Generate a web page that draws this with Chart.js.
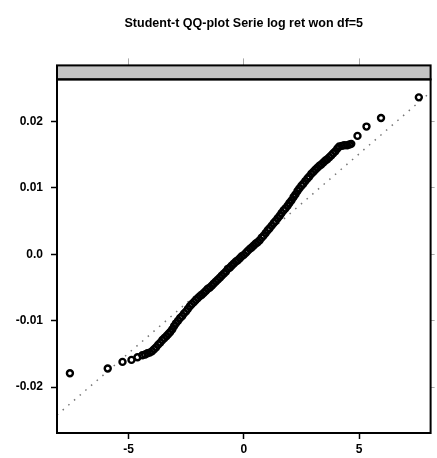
<!DOCTYPE html>
<html>
<head>
<meta charset="utf-8">
<script src="https://cdn.jsdelivr.net/npm/chart.js@4/dist/chart.umd.min.js"></script>
<style>
  body { margin: 0; background: #fff; }
  canvas { display: block; }
</style>
</head>
<body>
<canvas id="myChart" width="437" height="458"></canvas>
<script>
const ctx = document.getElementById('myChart');

const TITLE = 'Student-t QQ-plot Serie log ret won df=5';

// theoretical t(5) quantiles (x) against sorted log returns (y)
const Q_THEO = [
  -7.54, -5.90, -5.26, -4.87, -4.61, -4.40, -4.28, -4.18, -4.08, -3.98,
  -3.89, -3.80, -3.71, -3.62, -3.53, -3.44, -3.35, -3.27, -3.19, -3.10,
  -3.02, -2.94, -2.85, -2.76, -2.67, -2.59, -2.50, -2.42, -2.33, -2.25,
  -2.16, -2.08, -1.99, -1.90, -1.82, -1.73, -1.64, -1.56, -1.47, -1.38,
  -1.30, -1.21, -1.12, -1.03, -0.95, -0.86, -0.77, -0.69, -0.60, -0.52,
  -0.43, -0.34, -0.26, -0.17, -0.09, 0.00, 0.09, 0.17, 0.26, 0.34,
  0.43, 0.52, 0.60, 0.69, 0.78, 0.86, 0.95, 1.04, 1.12, 1.21,
  1.30, 1.38, 1.47, 1.56, 1.64, 1.73, 1.81, 1.90, 1.98, 2.07,
  2.16, 2.24, 2.33, 2.41, 2.50, 2.58, 2.67, 2.76, 2.84, 2.93,
  3.02, 3.10, 3.19, 3.28, 3.36, 3.45, 3.54, 3.62, 3.71, 3.80,
  3.88, 3.97, 4.06, 4.14, 4.25, 4.35, 4.48, 4.58, 4.66, 4.93,
  5.32, 5.95, 7.59
];
const Q_SAMPLE = [
  -0.0179, -0.0172, -0.0162, -0.0159, -0.0155, -0.0152, -0.0151, -0.0149, -0.0148, -0.0146,
  -0.0143, -0.0140, -0.0136, -0.0133, -0.0129, -0.0126, -0.0123, -0.0120, -0.0117, -0.0113,
  -0.0108, -0.0104, -0.0100, -0.0096, -0.0093, -0.0089, -0.0086, -0.0082, -0.0078, -0.0075,
  -0.0072, -0.0069, -0.0066, -0.0063, -0.0061, -0.0058, -0.0055, -0.0052, -0.0050, -0.0047,
  -0.0044, -0.0041, -0.0038, -0.0035, -0.0032, -0.0029, -0.0026, -0.0022, -0.0020, -0.0017,
  -0.0014, -0.0011, -0.0009, -0.0006, -0.0003, -0.0001, 0.0002, 0.0005, 0.0008, 0.0010,
  0.0013, 0.0016, 0.0018, 0.0021, 0.0025, 0.0028, 0.0032, 0.0036, 0.0039, 0.0043,
  0.0047, 0.0050, 0.0054, 0.0058, 0.0062, 0.0066, 0.0069, 0.0073, 0.0077, 0.0081,
  0.0086, 0.0090, 0.0095, 0.0099, 0.0103, 0.0106, 0.0110, 0.0114, 0.0117, 0.0121,
  0.0124, 0.0127, 0.0130, 0.0133, 0.0135, 0.0138, 0.0141, 0.0143, 0.0146, 0.0149,
  0.0152, 0.0155, 0.0159, 0.0162, 0.0163, 0.0164, 0.0164, 0.0165, 0.0166, 0.0178,
  0.0192, 0.0205, 0.0236
];

// qq reference line end points
const LINE_X = [-8.1, 8.1];
const LINE_Y = [-0.0242, 0.0244];

const X_TICKS = [-5, 0, 5];
const X_TICK_LABELS = ['-5', '0', '5'];
const Y_TICKS = [-0.02, -0.01, 0, 0.01, 0.02];
const Y_TICK_LABELS = ['-0.02', '-0.01', '0.0', '0.01', '0.02'];

const X_MIN = -8.1, X_MAX = 8.1;
const Y_MIN = -0.0269, Y_MAX = 0.0263;

const FONT = 'Liberation Sans, Arial, sans-serif';

const points = Q_THEO.map((x, i) => ({ x: x, y: Q_SAMPLE[i] }));
const refLine = LINE_X.map((x, i) => ({ x: x, y: LINE_Y[i] }));

function setTicks(list) {
  return function (scale) {
    scale.ticks = list.map(v => ({ value: v }));
  };
}

// grey strip over the panel, like a lattice strip
const stripPlugin = {
  id: 'strip',
  afterDraw(chart) {
    const a = chart.chartArea;
    const c = chart.ctx;
    c.save();
    c.fillStyle = '#c4c4c4';
    c.fillRect(a.left, a.top - 14, a.right - a.left, 14);
    c.strokeStyle = '#000';
    c.lineWidth = 2;
    c.strokeRect(a.left, a.top - 14, a.right - a.left, 14);
    c.strokeRect(a.left, a.top, a.right - a.left, a.bottom - a.top);
    c.restore();
  }
};

window.myChart = new Chart(ctx, {
  type: 'scatter',
  data: {
    datasets: [{
      label: 'qq',
      data: points,
      pointStyle: 'circle',
      pointRadius: 3,
      borderWidth: 2.4,
      borderColor: '#000',
      backgroundColor: 'rgba(0,0,0,0)',
      order: 1
    }, {
      label: 'line',
      data: refLine,
      showLine: true,
      pointRadius: 0,
      borderColor: '#777',
      borderWidth: 1.5,
      borderDash: [1.5, 6],
      order: 2
    }]
  },
  options: {
    responsive: false,
    animation: false,
    layout: { padding: 0 },
    plugins: {
      legend: { display: false },
      tooltip: { enabled: false },
      title: {
        display: true,
        fullSize: false,
        text: TITLE,
        color: '#000',
        font: { family: FONT, size: 12.5, weight: 'bold' },
        padding: { top: 16, bottom: 0 }
      }
    },
    scales: {
      x: {
        type: 'linear',
        position: 'bottom',
        min: X_MIN, max: X_MAX,
        afterBuildTicks: setTicks(X_TICKS),
        afterFit(s) { s.height = 25; },
        border: { display: true, color: '#000', width: 2 },
        grid: { drawOnChartArea: false, tickLength: 6, color: '#000', tickWidth: 1.5 },
        ticks: {
          color: '#000', padding: 3, maxRotation: 0,
          font: { family: FONT, size: 12, weight: 'bold' },
          callback: (v, i) => X_TICK_LABELS[i]
        }
      },
      x2: {
        type: 'linear',
        position: 'top',
        min: X_MIN, max: X_MAX,
        afterBuildTicks: setTicks(X_TICKS),
        afterFit(s) { s.height = 48.4; },
        border: { display: false },
        grid: { drawOnChartArea: false, tickLength: 21, color: '#aaa', tickWidth: 1 },
        ticks: { display: false }
      },
      y: {
        type: 'linear',
        position: 'left',
        min: Y_MIN, max: Y_MAX,
        afterBuildTicks: setTicks(Y_TICKS),
        afterFit(s) { s.width = 57; },
        border: { display: true, color: '#000', width: 2 },
        grid: { drawOnChartArea: false, tickLength: 6, color: '#000', tickWidth: 1.5 },
        ticks: {
          color: '#000', padding: 8,
          font: { family: FONT, size: 12, weight: 'bold' },
          callback: (v, i) => Y_TICK_LABELS[i]
        }
      },
      y2: {
        type: 'linear',
        position: 'right',
        min: Y_MIN, max: Y_MAX,
        afterBuildTicks: setTicks(Y_TICKS),
        afterFit(s) { s.width = 4; },
        border: { display: false },
        grid: { drawOnChartArea: false, tickLength: 4, color: '#aaa', tickWidth: 1 },
        ticks: { display: false }
      }
    }
  },
  plugins: [stripPlugin]
});
</script>
</body>
</html>
